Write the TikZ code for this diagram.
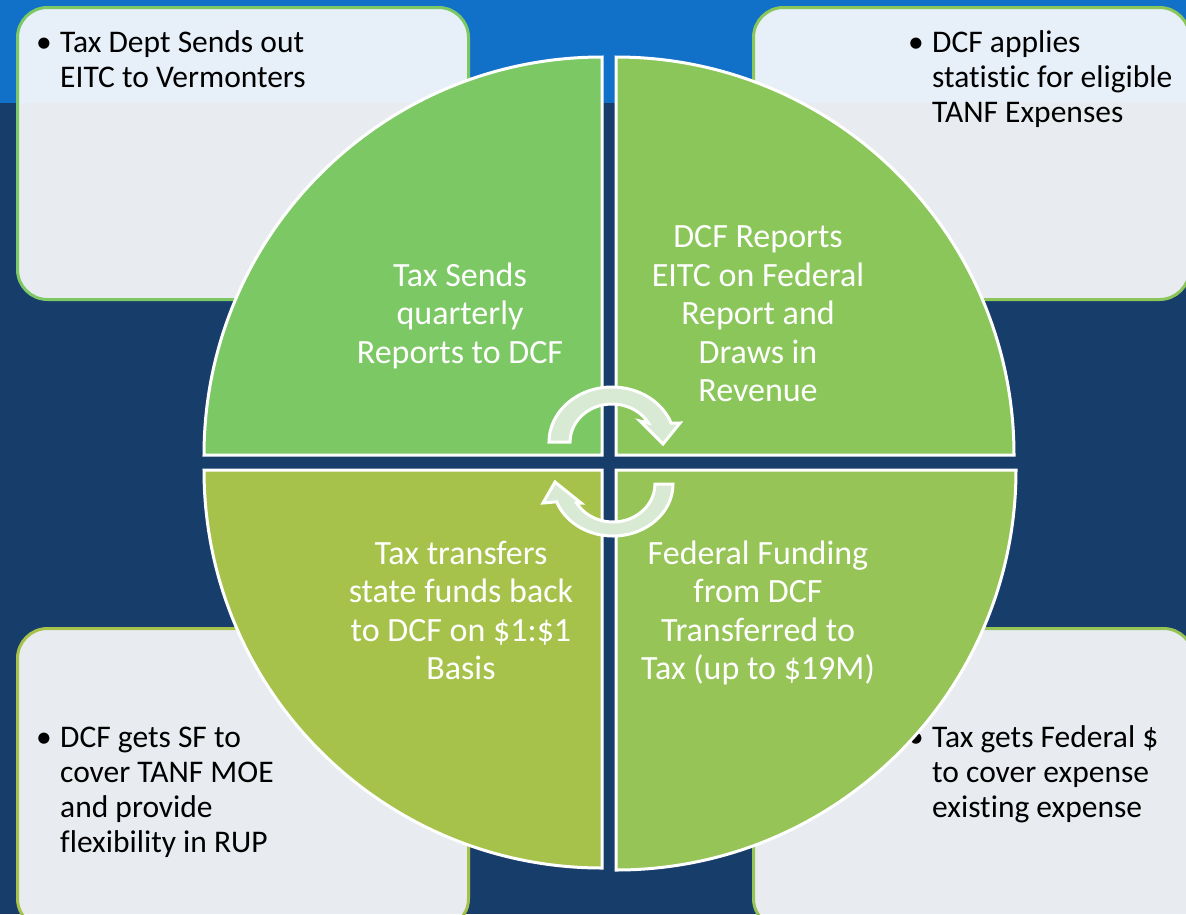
\documentclass[tikz,border=0pt]{standalone}
\usepackage{fontspec}
\setmainfont{Carlito}[Ligatures=NoCommon]
\usetikzlibrary{positioning}

\definecolor{bandblue}{HTML}{1170C8}
\definecolor{navyblue}{HTML}{173E6B}
\definecolor{tlgreen}{HTML}{7CC864}
\definecolor{trgreen}{HTML}{8BC65A}
\definecolor{blgreen}{HTML}{A7C24A}
\definecolor{brgreen}{HTML}{96C456}
\definecolor{cyclegreen}{HTML}{D8EAD3}

\tikzset{
  infobox/.style={draw, line width=3pt, rounded corners=30pt, fill=white, fill opacity=0.9, anchor=north west, inner sep=0pt},
  boxtext/.style={anchor=north west, inner sep=0pt, text=black, font=\fontsize{31.5}{35}\selectfont},
  quarter/.style={draw=white, line width=3pt},
  quartertext/.style={anchor=north, inner sep=0pt, text=white, align=center, font=\fontsize{34}{38.5}\selectfont},
  cyclearrow/.style={fill=cyclegreen, draw=white, line width=3pt, line join=miter}
}

\newcommand{\bulletline}[1]{\makebox[24pt][l]{\textbullet}&#1}

\begin{document}
\begin{tikzpicture}[x=1pt, y=-1pt]
  \useasboundingbox (0,0) rectangle (1186,914);
  \clip (0,0) rectangle (1186,914);

  % background
  \fill[navyblue] (0,0) rectangle (1186,914);
  \fill[bandblue] (0,0) rectangle (1186,103);

  % corner boxes
  \node[infobox, draw=tlgreen, minimum width=451pt, minimum height=292pt] (boxTL) at (16,6) {};
  \node[infobox, draw=trgreen, minimum width=436pt, minimum height=292pt] (boxTR) at (752,6) {};
  \node[infobox, draw=blgreen, minimum width=451pt, minimum height=300pt] (boxBL) at (16,627) {};
  \node[infobox, draw=brgreen, minimum width=440pt, minimum height=300pt] (boxBR) at (752,627) {};

  \node[boxtext] (txtTL) at (36,27.5) {\begin{tabular}{@{}l@{}l@{}}
    \bulletline{Tax Dept Sends out}\\ & EITC to Vermonters\end{tabular}};
  \node[boxtext] (txtTR) at (908,27.5) {\begin{tabular}{@{}l@{}l@{}}
    \bulletline{DCF applies}\\ & statistic for eligible\\ & TANF Expenses\end{tabular}};
  \node[boxtext] (txtBL) at (36,722.5) {\begin{tabular}{@{}l@{}l@{}}
    \bulletline{DCF gets SF to}\\ & cover TANF MOE\\ & and provide\\ & flexibility in RUP\end{tabular}};
  \node[boxtext] (txtBR) at (908,722.5) {\begin{tabular}{@{}l@{}l@{}}
    \bulletline{Tax gets Federal \$}\\ & to cover expense\\ & existing expense\end{tabular}};

  % circle quarters
  \filldraw[quarter, fill=tlgreen] (602,455) -- (204,455) arc[start angle=180, end angle=270, radius=398] -- cycle;
  \filldraw[quarter, fill=trgreen] (616,455) -- (616,57) arc[start angle=270, end angle=360, radius=398] -- cycle;
  \filldraw[quarter, fill=blgreen] (602,470) -- (602,868) arc[start angle=90, end angle=180, radius=398] -- cycle;
  \filldraw[quarter, fill=brgreen] (616,470) -- (1016,470) arc[start angle=0, end angle=90, radius=400] -- cycle;

  \node[quartertext] (stepTL) at (460,259) {\strut Tax Sends\\quarterly\\Reports to DCF};
  \node[quartertext] (stepTR) at (758,220.5) {\strut DCF Reports\\EITC on Federal\\Report and\\Draws in\\Revenue};
  \node[quartertext] (stepBL) at (461,537) {\strut Tax transfers\\state funds back\\to DCF on \$1:\$1\\Basis};
  \node[quartertext] (stepBR) at (758,537) {\strut Federal Funding\\from DCF\\Transferred to\\Tax (up to \$19M)};

  % cycle arrows
  \filldraw[cyclearrow] (549,442) arc[start angle=180, end angle=340, x radius=63, y radius=55]
    -- (680,423) -- (663,444) -- (640,421) -- (648.4,423)
    arc[start angle=330, end angle=180, x radius=42, y radius=38] -- cycle;
  \filldraw[cyclearrow] (673,484) arc[start angle=0, end angle=160, x radius=60, y radius=52]
    -- (543,503) -- (555,482) -- (581,503) -- (576.6,503)
    arc[start angle=150, end angle=0, x radius=42, y radius=38] -- cycle;
\end{tikzpicture}
\end{document}
